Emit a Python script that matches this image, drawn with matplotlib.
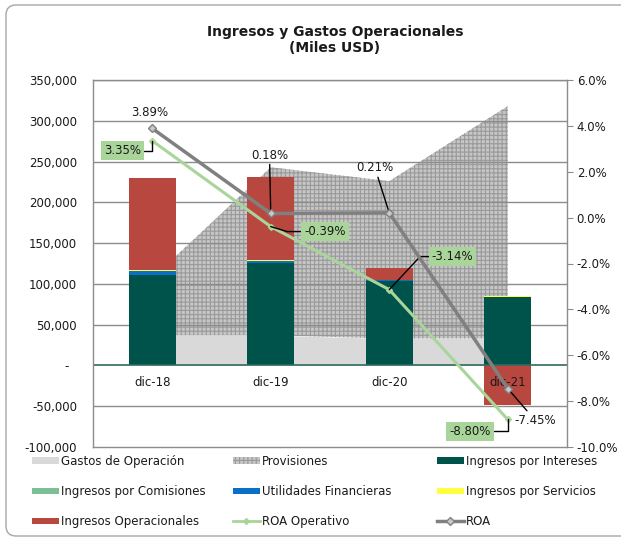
# Ingresos y Gastos Operacionales - stacked bars + areas + ROA lines

import numpy as np
import matplotlib.pyplot as plt
from matplotlib.patches import Patch, FancyBboxPatch
from matplotlib.lines import Line2D
from matplotlib.ticker import FuncFormatter


# Data (miles USD / %)

periods = ["dic-18", "dic-19", "dic-20", "dic-21"]

gastos_operacion = [37000, 37000, 33000, 33000]
provisiones = [70000, 206000, 193000, 285000]

ing_intereses = [110300, 125500, 103300, 83700]
ing_comisiones = [500, 400, 300, 200]
utilidades_fin = [4500, 2500, 800, 300]
ing_servicios = [1500, 1500, 600, 1500]
ing_operacionales = [112500, 101100, 14000, -48700]

roa_operativo = [3.35, -0.39, -3.14, -8.80]
roa = [3.89, 0.18, 0.21, -7.45]


# Colours

c_gastos = "#d9d9d9"
c_prov = "#c6c6c6"
c_hatch = "#9a9a9a"
c_int = "#00534a"
c_com = "#7dbf95"
c_util = "#0a6fc8"
c_serv = "#ffff40"
c_oper = "#b8483f"
c_roa_op = "#a9d49a"
c_roa = "#808080"
c_grid = "#8c8c8c"
c_text = "#1a1a1a"

plt.rcParams["font.family"] = "DejaVu Sans"
plt.rcParams["hatch.linewidth"] = 0.8

W, H = 621, 538
fig = plt.figure(figsize=(W / 100, H / 100), dpi=100)
ax = fig.add_axes([93 / W, 1 - 447 / H, 474 / W, 367 / H])
ax2 = ax.twinx()

x = np.arange(len(periods))

# Areas

gastos = np.array(gastos_operacion)
top = gastos + np.array(provisiones)
ax.fill_between(x, 0, gastos, color=c_gastos, lw=0, zorder=1)
ax.fill_between(x, gastos, top, facecolor=c_prov, edgecolor=c_hatch,
                hatch="++++", lw=0, zorder=1)

# Gridlines

for yv in range(-50000, 350001, 50000):
    if yv != 0:
        ax.axhline(yv, color=c_grid, lw=1, zorder=1.5)

# Stacked bars

pos_base = np.zeros(len(x))
neg_base = np.zeros(len(x))
for vals, col in [(ing_intereses, c_int), (ing_comisiones, c_com),
                  (utilidades_fin, c_util), (ing_servicios, c_serv),
                  (ing_operacionales, c_oper)]:
    vals = np.array(vals, dtype=float)
    base = np.where(vals >= 0, pos_base, neg_base)
    ax.bar(x, vals, 0.4, bottom=base, color=col, lw=0, zorder=2)
    pos_base = pos_base + np.where(vals >= 0, vals, 0)
    neg_base = neg_base + np.where(vals < 0, vals, 0)

ax.axhline(0, color="#2f6b5e", lw=1.2, zorder=2.5)

ax.set_xlim(-0.5, 3.5)
ax.set_ylim(-100000, 350000)
ax.set_yticks(range(-100000, 350001, 50000))
ax.yaxis.set_major_formatter(FuncFormatter(
    lambda v, p: "-  " if v == 0 else f"{v:,.0f}"))
ax.tick_params(axis="y", length=0, pad=11.5, labelsize=8.5, labelcolor=c_text)
ax.set_xticks([])
for s in ax.spines.values():
    s.set_visible(False)

for i, p in enumerate(periods):
    ax.annotate(p, (i, 0), xytext=(0, -12), textcoords="offset points",
                ha="center", va="center", fontsize=8.5, color=c_text, zorder=5)

# ROA lines

ax2.plot(x, roa_operativo, color=c_roa_op, lw=2.2, marker="D", ms=3,
         mfc=c_roa_op, mec=c_roa_op, zorder=3)
ax2.plot(x, roa, color=c_roa, lw=2.5, marker="D", ms=4,
         mfc="#c8c8c8", mec=c_roa, mew=1, zorder=4)

ax2.set_ylim(-10, 6)
ax2.set_yticks(range(-10, 7, 2))
ax2.yaxis.set_major_formatter(FuncFormatter(lambda v, p: f"{v:.1f}%"))
ax2.tick_params(axis="y", length=4, color=c_grid, pad=3, labelsize=8.5,
                labelcolor=c_text)
for s in ax2.spines.values():
    s.set_color(c_grid)
    s.set_linewidth(1)

# Data labels (offsets in points)

green_box = dict(boxstyle="square,pad=0.25", fc=c_roa_op, ec="none")
lead = dict(arrowstyle="-", color="black", lw=1, shrinkA=0, shrinkB=0)

ax2.annotate(f"{roa[0]:.2f}%", (0, roa[0]), xytext=(-1.5, 11.5),
             textcoords="offset points", ha="center", va="center",
             fontsize=8.5, color=c_text)
ax2.annotate(f"{roa_operativo[0]:.2f}%", (0, roa_operativo[0]),
             xytext=(-21.4, -7.3), textcoords="offset points",
             ha="center", va="center", fontsize=8.5, color=c_text, bbox=green_box,
             arrowprops=dict(lead, connectionstyle="angle,angleA=0,angleB=90,rad=0"))
ax2.annotate(f"{roa[1]:.2f}%", (1, roa[1]), xytext=(-0.9, 42),
             textcoords="offset points", ha="center", va="center",
             fontsize=8.5, color=c_text, arrowprops=lead)
ax2.annotate(f"{roa_operativo[1]:.2f}%", (1, roa_operativo[1]),
             xytext=(39, -3.6), textcoords="offset points",
             ha="center", va="center", fontsize=8.5, color=c_text, bbox=green_box,
             arrowprops=dict(lead, connectionstyle="angle,angleA=0,angleB=163,rad=0"))
ax2.annotate(f"{roa[2]:.2f}%", (2, roa[2]), xytext=(-10.3, 32.3),
             textcoords="offset points", ha="center", va="center",
             fontsize=8.5, color=c_text, arrowprops=lead)
ax2.annotate(f"{roa_operativo[2]:.2f}%", (2, roa_operativo[2]),
             xytext=(45.5, 23.8), textcoords="offset points",
             ha="center", va="center", fontsize=8.5, color=c_text, bbox=green_box,
             arrowprops=dict(lead, connectionstyle="angle,angleA=0,angleB=47,rad=0"))
ax2.annotate(f"{roa[3]:.2f}%", (3, roa[3]), xytext=(19.6, -22.7),
             textcoords="offset points", ha="center", va="center",
             fontsize=8.5, color=c_text, arrowprops=lead)
ax2.annotate(f"{roa_operativo[3]:.2f}%", (3, roa_operativo[3]),
             xytext=(-27.2, -8.6), textcoords="offset points",
             ha="center", va="center", fontsize=8.5, color=c_text, bbox=green_box,
             arrowprops=dict(lead, connectionstyle="angle,angleA=0,angleB=90,rad=0"))

# Title

fig.text(335 / W, 1 - 40 / H, "Ingresos y Gastos Operacionales\n(Miles USD)",
         ha="center", va="center", fontsize=10, fontweight="bold",
         color=c_text, linespacing=1.25)

# Legend: three columns

h_gastos = Patch(facecolor=c_gastos)
h_prov = Patch(facecolor=c_prov, edgecolor=c_hatch, hatch="++++", lw=0)
h_int = Patch(facecolor=c_int)
h_com = Patch(facecolor=c_com)
h_util = Patch(facecolor=c_util)
h_serv = Patch(facecolor=c_serv)
h_oper = Patch(facecolor=c_oper)
h_roa_op = Line2D([], [], color=c_roa_op, lw=2, marker="D", ms=3,
                  mfc=c_roa_op, mec=c_roa_op)
h_roa = Line2D([], [], color=c_roa, lw=2.5, marker="D", ms=4,
               mfc="#c8c8c8", mec=c_roa)

columns = [
    ([h_gastos, h_com, h_oper],
     ["Gastos de Operación", "Ingresos por Comisiones", "Ingresos Operacionales"], 32),
    ([h_prov, h_util, h_roa_op],
     ["Provisiones", "Utilidades Financieras", "ROA Operativo"], 233),
    ([h_int, h_serv, h_roa],
     ["Ingresos por Intereses", "Ingresos por Servicios", "ROA"], 437),
]
for handles, labels, x0 in columns:
    fig.legend(handles, labels, loc="upper left",
               bbox_to_anchor=(x0 / W, 1 - 455 / H), frameon=False,
               fontsize=8.5, borderpad=0, borderaxespad=0,
               handlelength=2.25, handleheight=0.5, handletextpad=0.2,
               labelspacing=1.45, labelcolor=c_text)

# Outer rounded border

fig.add_artist(FancyBboxPatch((6, 2), 640, 531,
                              boxstyle="round,pad=0,rounding_size=10",
                              transform=None, fill=False,
                              edgecolor="#a6a6a6", lw=1))

fig.savefig("out.png", dpi=100)
